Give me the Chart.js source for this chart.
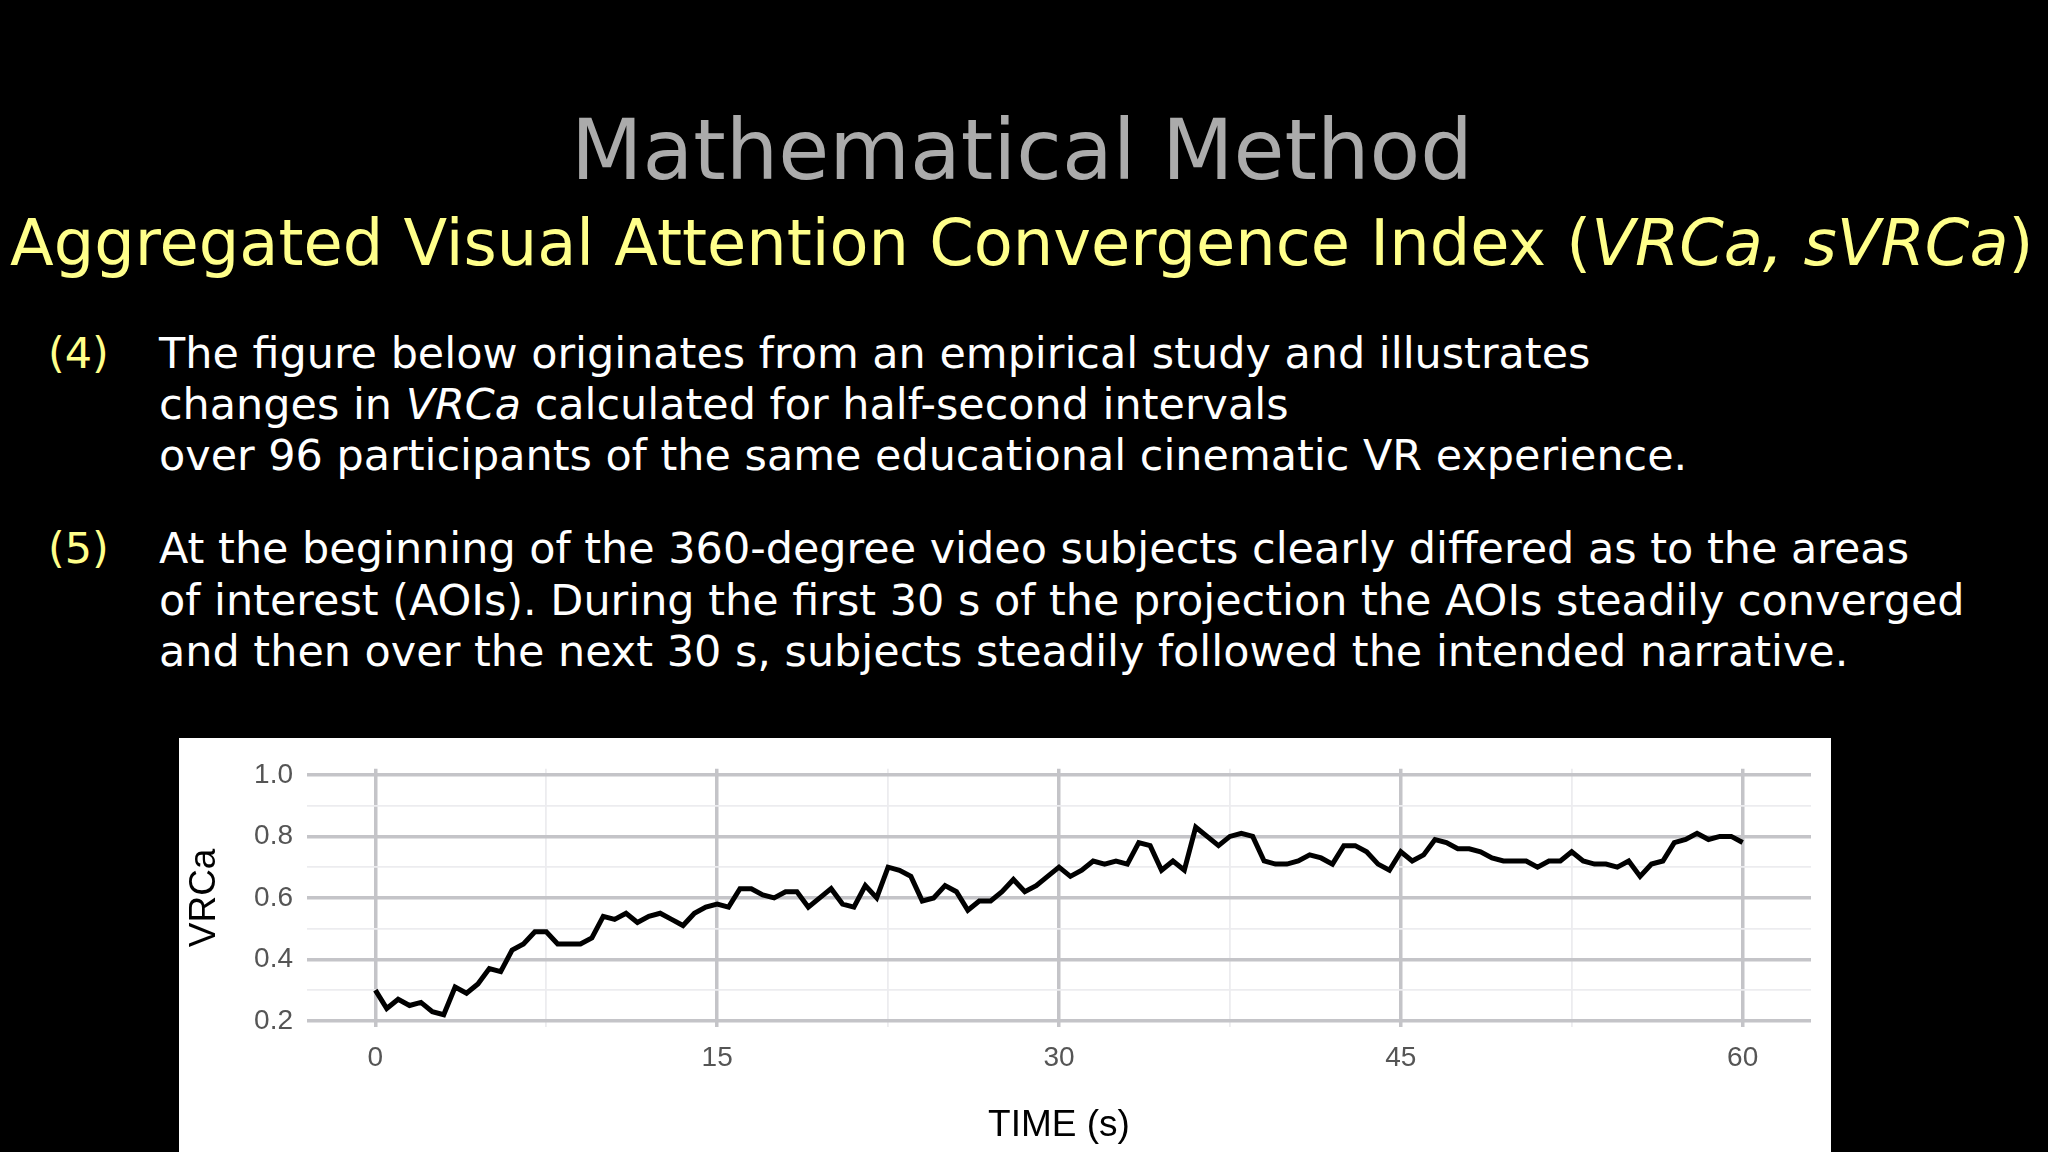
<!DOCTYPE html>
<html><head><meta charset="utf-8">
<script src="https://cdn.jsdelivr.net/npm/chart.js@4"></script>
<style>
html,body{margin:0;padding:0;background:#000;width:2048px;height:1152px;overflow:hidden;font-family:"DejaVu Sans",sans-serif}
.t{position:absolute;white-space:nowrap;line-height:1}
#panel{position:absolute;left:179px;top:738px;width:1652px;height:414px;background:#fff}
</style></head><body>
<div class="t" id="title" data-w="902" style="left:571px;top:110px;font-size:80px;color:#ababab">Mathematical Method</div>
<div class="t" id="sub" data-w="2024" style="left:10px;top:212px;font-size:54px;color:#ffff8a">Aggregated Visual Attention Convergence Index (<i>VRCa, sVRCa</i>)</div>
<div class="t" style="left:48px;top:332px;font-size:40px;color:#ffff8a">(4)</div>
<div class="t" data-w="1428" style="left:159px;top:332px;font-size:40px;color:#fff">The figure below originates from an empirical study and illustrates</div>
<div class="t" style="left:159px;top:383px;font-size:40px;color:#fff">changes in <i>VRCa</i> calculated for half-second intervals</div>
<div class="t" data-w="1514" style="left:159px;top:434px;font-size:40px;color:#fff">over 96 participants of the same educational cinematic VR experience.</div>
<div class="t" style="left:48px;top:527px;font-size:40px;color:#ffff8a">(5)</div>
<div class="t" data-w="1750" style="left:159px;top:527px;font-size:40px;color:#fff">At the beginning of the 360-degree video subjects clearly differed as to the areas</div>
<div class="t" data-w="1828" style="left:159px;top:579px;font-size:40px;color:#fff">of interest (AOIs). During the first 30 s of the projection the AOIs steadily converged</div>
<div class="t" style="left:159px;top:630px;font-size:40px;color:#fff">and then over the next 30 s, subjects steadily followed the intended narrative.</div>
<div id="panel"><canvas id="c" width="1652" height="414"></canvas></div>
<script>
// scale text to target widths
let bodyScale=null;
document.querySelectorAll('[data-w]').forEach(el=>{
  const w=el.getBoundingClientRect().width, fs=parseFloat(el.style.fontSize);
  el.style.fontSize=(fs*(+el.dataset.w)/w)+'px';
});
const bodyEls=[...document.querySelectorAll('.t')].filter(e=>e.style.color==='rgb(255, 255, 255)'&&e.dataset.w);
const fsBody=bodyEls.reduce((a,e)=>a+parseFloat(e.style.fontSize),0)/bodyEls.length;
document.querySelectorAll('.t').forEach(e=>{if(e.style.fontSize==='40px')e.style.fontSize=fsBody+'px';});
bodyEls.forEach(e=>e.style.fontSize=fsBody+'px');

const times=[0,0.5,1,1.5,2,2.5,3,3.5,4,4.5,5,5.5,6,6.5,7,7.5,8,8.5,9,9.5,10,10.5,11,11.5,12,12.5,13,13.5,14,14.5,15,15.5,16,16.5,17,17.5,18,18.5,19,19.5,20,20.5,21,21.5,22,22.5,23,23.5,24,24.5,25,25.5,26,26.5,27,27.5,28,28.5,29,29.5,30,30.5,31,31.5,32,32.5,33,33.5,34,34.5,35,35.5,36,36.5,37,37.5,38,38.5,39,39.5,40,40.5,41,41.5,42,42.5,43,43.5,44,44.5,45,45.5,46,46.5,47,47.5,48,48.5,49,49.5,50,50.5,51,51.5,52,52.5,53,53.5,54,54.5,55,55.5,56,56.5,57,57.5,58,58.5,59,59.5,60];
const vrca=[0.30,0.24,0.27,0.25,0.26,0.23,0.22,0.31,0.29,0.32,0.37,0.36,0.43,0.45,0.49,0.49,0.45,0.45,0.45,0.47,0.54,0.53,0.55,0.52,0.54,0.55,0.53,0.51,0.55,0.57,0.58,0.57,0.63,0.63,0.61,0.60,0.62,0.62,0.57,0.60,0.63,0.58,0.57,0.64,0.60,0.70,0.69,0.67,0.59,0.60,0.64,0.62,0.56,0.59,0.59,0.62,0.66,0.62,0.64,0.67,0.70,0.67,0.69,0.72,0.71,0.72,0.71,0.78,0.77,0.69,0.72,0.69,0.83,0.80,0.77,0.80,0.81,0.80,0.72,0.71,0.71,0.72,0.74,0.73,0.71,0.77,0.77,0.75,0.71,0.69,0.75,0.72,0.74,0.79,0.78,0.76,0.76,0.75,0.73,0.72,0.72,0.72,0.70,0.72,0.72,0.75,0.72,0.71,0.71,0.70,0.72,0.67,0.71,0.72,0.78,0.79,0.81,0.79,0.80,0.80,0.78];
const xMajor=[0,15,30,45,60];
const xMinor=[7.5,22.5,37.5,52.5];
const yMajor=[0.2,0.4,0.6,0.8,1.0];
const yMinor=[0.3,0.5,0.7,0.9];
const xTitle='TIME (s)', yTitle='VRCa';

const isMajor=(v,arr)=>arr.some(a=>Math.abs(a-v)<1e-6);
const gridCol=(arr)=>c=>isMajor(c.tick.value,arr)?'#c4c4c8':'#ececef';
const gridW=(arr)=>c=>isMajor(c.tick.value,arr)?3.5:1.8;
new Chart(document.getElementById('c'),{
  type:'line',
  data:{datasets:[{data:times.map((t,i)=>({x:t,y:vrca[i]})),borderColor:'#000',borderWidth:5,pointRadius:0,tension:0,borderJoinStyle:'miter'}]},
  options:{responsive:false,animation:false,
    layout:{padding:{top:25,right:20,left:0,bottom:0}},
    plugins:{legend:{display:false},tooltip:{enabled:false}},
    scales:{
      x:{type:'linear',min:-3,max:63,
        afterBuildTicks:s=>{s.ticks=[...xMajor,...xMinor].sort((a,b)=>a-b).map(v=>({value:v}));},
        afterFit:s=>{s.height=125;},
        ticks:{autoSkip:false,maxRotation:0,color:'#555',font:{size:28,family:'Liberation Sans'},padding:14,
          callback:v=>isMajor(v,xMajor)?String(v):''},
        grid:{color:gridCol(xMajor),lineWidth:gridW(xMajor),drawTicks:false},border:{display:false},
        title:{display:true,text:xTitle,color:'#000',font:{size:37,family:'Liberation Sans'},padding:{top:8}}},
      y:{type:'linear',min:0.18,max:1.02,
        afterBuildTicks:s=>{s.ticks=[...yMajor,...yMinor].sort((a,b)=>a-b).map(v=>({value:v}));},
        afterFit:s=>{s.width=128;},
        ticks:{autoSkip:false,color:'#555',font:{size:28,family:'Liberation Sans'},padding:14,
          callback:v=>isMajor(v,yMajor)?v.toFixed(1):''},
        grid:{color:gridCol(yMajor),lineWidth:gridW(yMajor),drawTicks:false},border:{display:false},
        title:{display:true,text:yTitle,color:'#000',font:{size:37,family:'Liberation Sans'},padding:{bottom:4}}}
    }}
});
</script>
</body></html>
